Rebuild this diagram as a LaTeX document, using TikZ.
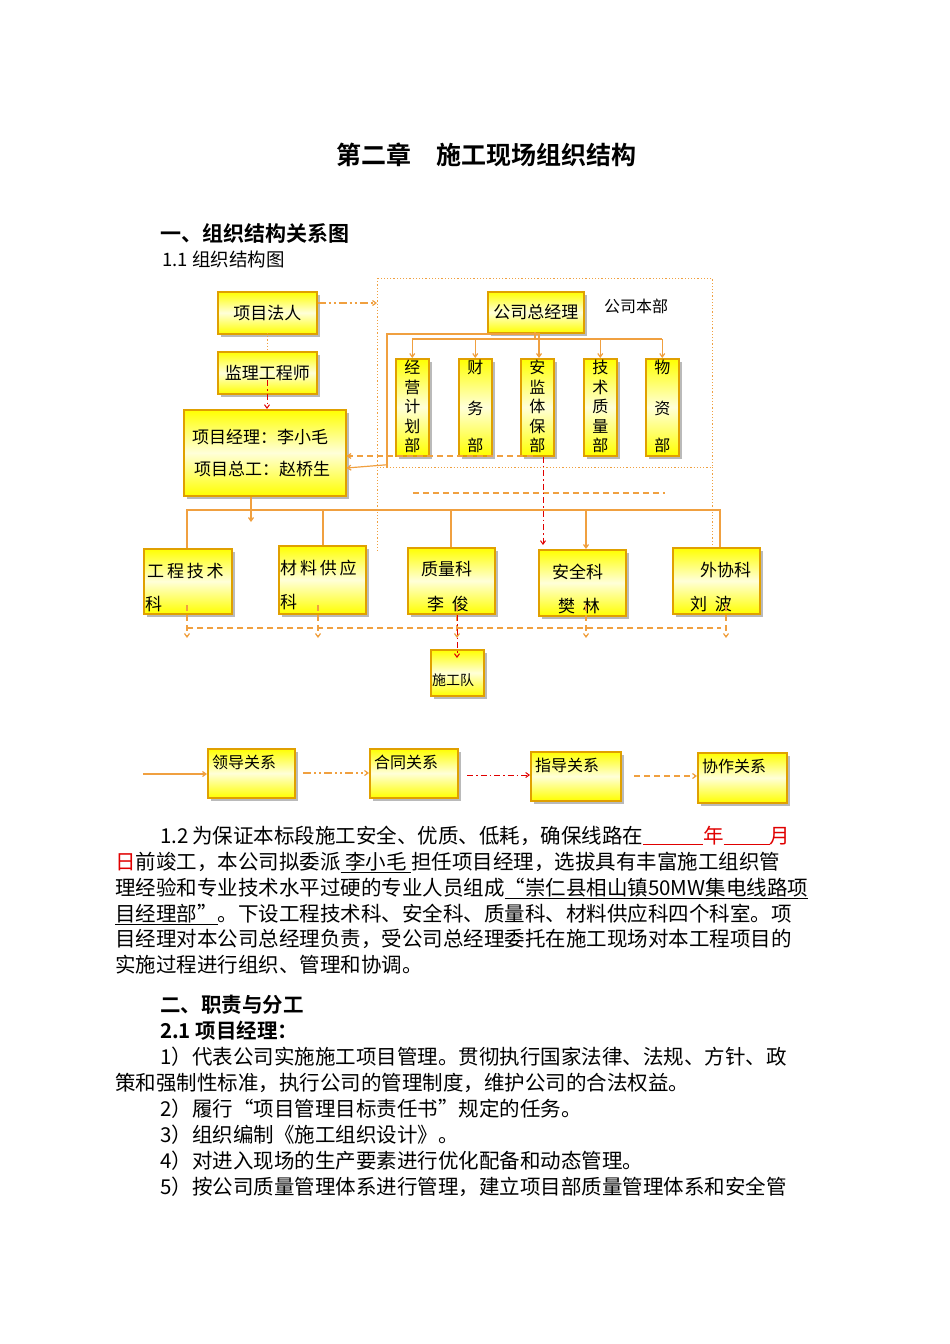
\documentclass[tikz,border=0pt]{standalone}
\usepackage{fontspec}
\setmainfont{Noto Sans CJK SC}[BoldFont={Noto Sans CJK SC Bold}]
\usetikzlibrary{arrows.meta,shadows}
\definecolor{ln}{HTML}{F0A040}
\definecolor{bd}{HTML}{E0A000}
\definecolor{rd}{HTML}{E00000}
\begin{document}
\begin{tikzpicture}[x=1pt,y=-1pt,
 ybox/.style={draw=bd,line width=1.5pt,top color=yellow,bottom color=yellow,middle color=yellow!15,
   drop shadow={shadow xshift=3pt,shadow yshift=-3pt,fill=black!45,opacity=0.6},anchor=north west,inner sep=0pt},
 t/.style={inner sep=0pt,anchor=base west,font=\fontsize{17}{19}\selectfont},
 bt/.style={inner sep=0pt,anchor=base west,font=\fontsize{20.5}{24}\selectfont},
 vt/.style={inner sep=0pt,anchor=north,align=center,font=\fontsize{16}{19.5}\selectfont},
 sl/.style={draw=ln,line width=1.2pt},
 tip/.style={-{Straight Barb[length=3.5pt,width=5pt]}},
 dsh/.style={draw=ln,line width=1.2pt,dash pattern=on 6pt off 4pt},
 dd/.style={draw=ln,line width=1.2pt,dash pattern=on 8pt off 3pt on 2pt off 3pt on 2pt off 3pt},
 rdd/.style={draw=rd,line width=1pt,dash pattern=on 6pt off 3pt on 1.5pt off 3pt},
 dt/.style={draw=ln,line width=1pt,dash pattern=on 1.2pt off 2pt}]
\useasboundingbox (0,0) rectangle (950,1344);
\node[font=\fontsize{25}{28}\selectfont\bfseries] (title) at (486,155) {第二章\hspace{1em}施工现场组织结构};
\node[bt,font=\fontsize{21}{24}\selectfont\bfseries] (h1) at (160,241) {一、组织结构关系图};
\node[bt,font=\fontsize{18.5}{22}\selectfont] (h11) at (162,266) {1.1 组织结构图};
% company frame
\draw[dt] (377,278) rectangle (712,467);
\coordinate (fl) at (377,303);
\draw[dt] (377,467) -- (377,553);
\draw[dt] (712,467) -- (712,553);
\draw[dsh] (413,493) -- (665,493);
% boxes
\node[ybox,minimum width=99,minimum height=42] (fr) at (217,291) {};
\node[t,anchor=center] (frt) at (fr.center) {项目法人};
\node[ybox,minimum width=99,minimum height=42] (jl) at (217,351) {};
\node[t,anchor=center] (jlt) at (jl.center) {监理工程师};
\node[ybox,minimum width=162,minimum height=86] (pm) at (183,409) {};
\node[t] (pm1) at (192,443) {项目经理：李小毛};
\node[t] (pm2) at (194,475) {项目总工：赵桥生};
\node[ybox,minimum width=96,minimum height=41] (gm) at (487,291) {};
\node[t,anchor=center] (gmt) at (gm.center) {公司总经理};
\node[t,font=\fontsize{16}{19}\selectfont] (hq) at (604,312) {公司本部};
\foreach \n/\x/\s in {d1/395/{经\\营\\计\\划\\部},d2/458/{财\\[21pt]务\\[18pt]部},d3/520/{安\\监\\体\\保\\部},d4/583/{技\\术\\质\\量\\部},d5/645/{物\\[21pt]资\\[18pt]部}}{
  \node[ybox,minimum width=33,minimum height=97] (\n) at (\x,358) {};
  \node[vt] (\n t) at ([yshift=-2pt]\n.north) {\s};
}
% top connectors
\draw[dd,tip] (fr.east |- 0,303) -- (fl);
\draw[dt] (267,333) -- (267,351);
\draw[rdd,tip] (267,380) -- (pm.north -| 267,0);
\draw[sl] (535,332) -- (535,339);
\draw[sl] (d1.north |- 0,339) -- (d5.north |- 0,339);
\foreach \n in {d1,d2,d4,d5}{\draw[sl,tip] (\n.north |- 0,339) -- (\n.north);}
\draw[sl,tip] (387,468) |- (539,334) -- (d3.north -| 539,0);
\draw[dsh,tip] (d3.south -| 532,0) |- (pm.east |- 0,456);
\draw[sl,tip] (pm.east -| 387,0) ++(0,12) -- (pm.east |- 0,468);
\draw[rdd,tip] (d3.south -| 543,0) -- (543,545);
% second level
\node[ybox,minimum width=88,minimum height=65] (k1) at (143,548) {};
\node[t] (k1a) at (147,577) {工\,程\,技\,术};
\node[t] (k1b) at (145,610) {科};
\node[ybox,minimum width=87,minimum height=68] (k2) at (278,545) {};
\node[t] (k2a) at (280,574) {材\,料\,供\,应};
\node[t] (k2b) at (280,608) {科};
\node[ybox,minimum width=87,minimum height=66] (k3) at (407,547) {};
\node[t] (k3a) at (421,575) {质量科};
\node[t] (k3b) at (427,610) {李\ \ 俊};
\node[ybox,minimum width=87,minimum height=66] (k4) at (538,549) {};
\node[t] (k4a) at (552,578) {安全科};
\node[t] (k4b) at (558,612) {樊\ \ 林};
\node[ybox,minimum width=87,minimum height=66] (k5) at (672,547) {};
\node[t] (k5a) at (700,576) {外协科};
\node[t] (k5b) at (690,610) {刘\ \ 波};
\draw[sl] (k1.north -| 187,0) |- (720,510) -- (k5.north -| 720,0);
\draw[sl,tip] (pm.south -| 251,0) -- (251,522);
\draw[sl] (323,510) -- (k2.north -| 323,0);
\draw[sl] (451,510) -- (k3.north -| 451,0);
\draw[sl,tip] (586,510) -- (k4.north -| 586,0);
\draw[dsh] (187,628) -- (721,628);
\foreach \x in {187,318,586,726}{\draw[dsh,tip] (\x,605) -- (\x,638);}
\draw[dsh,tip] (457,605) -- (457,638);
\node[ybox,minimum width=53,minimum height=46] (sg) at (430,649) {};
\node[t,font=\fontsize{14}{16}\selectfont] (sgt) at (432,685) {施工队};
\draw[rdd,tip] (457,615) -- (457,658);
% legend
\node[ybox,minimum width=87,minimum height=49] (l1) at (207,748) {};
\node[t,font=\fontsize{16}{19}\selectfont] (l1t) at (212,768) {领导关系};
\node[ybox,minimum width=88,minimum height=49] (l2) at (369,748) {};
\node[t,font=\fontsize{16}{19}\selectfont] (l2t) at (374,768) {合同关系};
\node[ybox,minimum width=90,minimum height=49] (l3) at (530,751) {};
\node[t,font=\fontsize{16}{19}\selectfont] (l3t) at (535,771) {指导关系};
\node[ybox,minimum width=89,minimum height=50] (l4) at (697,752) {};
\node[t,font=\fontsize{16}{19}\selectfont] (l4t) at (702,772) {协作关系};
\coordinate (a0) at (143,774);
\draw[sl,tip] (a0) -- (l1.west |- a0);
\coordinate (a1) at (303,773);
\draw[dd,tip] (a1) -- (l2.west |- a1);
\coordinate (a2) at (467,775);
\draw[rdd,tip] (a2) -- (l3.west |- a2);
\coordinate (a3) at (634,776);
\draw[dsh,tip] (a3) -- (l4.west |- a3);
% body text
\node[bt] (p1) at (160,843) {1.2\,为保证本标段施工安全、优质、低耗，确保线路在\textcolor{rd}{\underline{\hspace{60pt}}年\underline{\hspace{46pt}}月}};
\node[bt] (p2) at (115,869) {\textcolor{rd}{日}前竣工，本公司拟委派\underline{\ 李小毛\ }担任项目经理，选拔具有丰富施工组织管};
\node[bt] (p3) at (115,895) {理经验和专业技术水平过硬的专业人员组成\underline{“崇仁县相山镇50MW集电线路项}};
\node[bt] (p4) at (115,921) {\underline{目经理部”}。下设工程技术科、安全科、质量科、材料供应科四个科室。项};
\node[bt] (p5) at (115,946) {目经理对本公司总经理负责，受公司总经理委托在施工现场对本工程项目的};
\node[bt] (p6) at (115,972) {实施过程进行组织、管理和协调。};
\node[bt,font=\fontsize{20.5}{24}\selectfont\bfseries] (h2) at (160,1012) {二、职责与分工};
\node[bt,font=\fontsize{20.5}{24}\selectfont\bfseries] (h21) at (160,1038) {2.1 项目经理：};
\node[bt] (q1) at (160,1064) {1）代表公司实施施工项目管理。贯彻执行国家法律、法规、方针、政};
\node[bt] (q2) at (115,1090) {策和强制性标准，执行公司的管理制度，维护公司的合法权益。};
\node[bt] (q3) at (160,1116) {2）履行“项目管理目标责任书”规定的任务。};
\node[bt] (q4) at (160,1142) {3）组织编制《施工组织设计》。};
\node[bt] (q5) at (160,1168) {4）对进入现场的生产要素进行优化配备和动态管理。};
\node[bt] (q6) at (160,1194) {5）按公司质量管理体系进行管理，建立项目部质量管理体系和安全管};
\end{tikzpicture}
\end{document}
